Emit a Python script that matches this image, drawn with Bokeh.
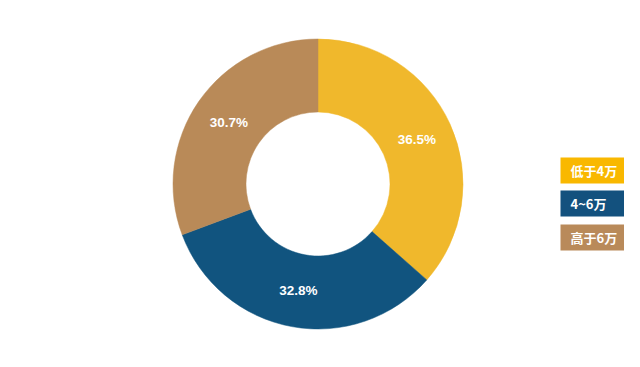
import math
from bokeh.plotting import figure
from bokeh.models import Range1d, ColumnDataSource
from bokeh.core.properties import value
from bokeh.embed import file_html
from bokeh.resources import INLINE

categories = ["低于4万", "4~6万", "高于6万"]
shares = [36.5, 32.8, 30.7]
labels = ["36.5%", "32.8%", "30.7%"]
slice_colors = ["#F0B82C", "#11547F", "#B98A58"]
legend_colors = ["#F9B800", "#13517E", "#B98A5A"]

W, H = 624, 351
# data coordinates: x = screen x, y = 367 - screen y
p = figure(width=W, height=H, output_backend="svg", toolbar_location=None,
           x_range=Range1d(0, W), y_range=Range1d(367 - H, 367),
           min_border=0, outline_line_color=None)
p.axis.visible = False
p.grid.visible = False
p.background_fill_color = "white"
p.border_fill_color = "white"

cx, cy = 317.5, 367 - 183.5
r_in, r_out = 72, 145
total = sum(shares)
starts, ends, lx, ly = [], [], [], []
cum = 0.0
for s in shares:
    a0 = math.pi / 2 - cum / total * 2 * math.pi
    cum += s
    a1 = math.pi / 2 - cum / total * 2 * math.pi
    starts.append(a0)
    ends.append(a1)
    mid = (a0 + a1) / 2
    rm = (r_in + r_out) / 2
    lx.append(cx + rm * math.cos(mid))
    ly.append(cy + rm * math.sin(mid))

src = ColumnDataSource(dict(start=starts, end=ends, color=slice_colors,
                            lx=lx, ly=ly, label=labels))
p.annular_wedge(x=cx, y=cy, inner_radius=r_in, outer_radius=r_out,
                start_angle="start", end_angle="end", direction="clock",
                fill_color="color", line_color="color", line_width=0.5, source=src)
p.text(x="lx", y="ly", text="label", source=src, text_color="white",
       text_font=value("Liberation Sans"), text_font_size="13.5px",
       text_font_style="bold", text_align="center", text_baseline="middle")

# legend boxes
tops = [367 - 157, 367 - 190, 367 - 224]
lsrc = ColumnDataSource(dict(
    left=[560] * 3, right=[640] * 3,
    top=tops, bottom=[t - 26 for t in tops],
    color=legend_colors, name=categories,
    tx=[570] * 3, ty=[t - 13 for t in tops]))
p.quad(left="left", right="right", top="top", bottom="bottom",
       fill_color="color", line_color=None, source=lsrc)
p.text(x="tx", y="ty", text="name", source=lsrc, text_color="white",
       text_font=value("Noto Sans CJK SC"), text_font_size="13px",
       text_font_style="bold", text_align="left", text_baseline="middle")

open("out.html", "w").write(file_html(p, INLINE))
